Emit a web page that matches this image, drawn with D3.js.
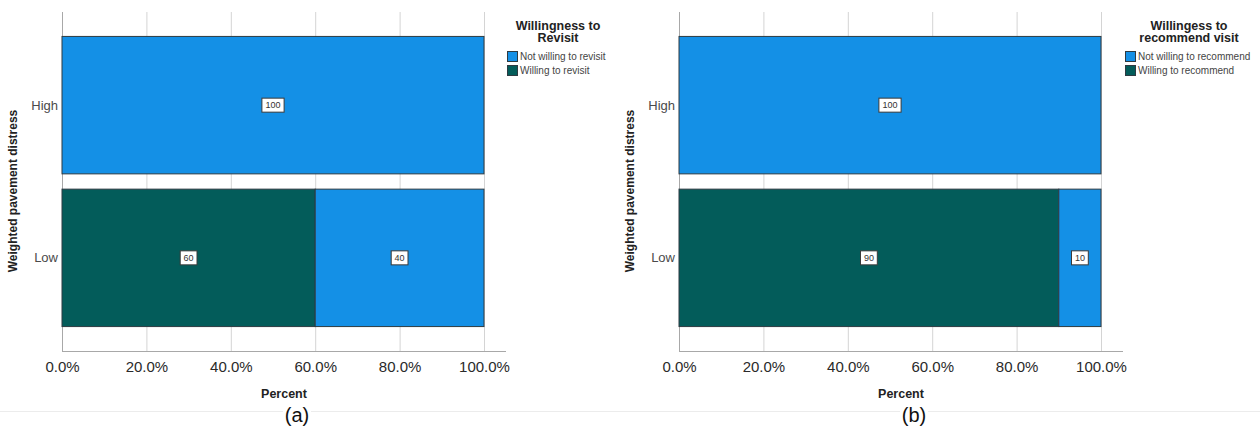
<!DOCTYPE html>
<html>
<head>
<meta charset="utf-8">
<style>
  body { margin: 0; background: #fff; }
  svg { display: block; font-family: "Liberation Sans", Arial, sans-serif; }
</style>
</head>
<body>
<svg width="1260" height="427"></svg>
<script src="https://cdn.jsdelivr.net/npm/d3@7/dist/d3.min.js"></script>
<script>
    const width = 1260;
    const height = 427;

    // data
    const categories = ["High", "Low"];
    const tickValues = [0, 20, 40, 60, 80, 100];
    const yTitle = "Weighted pavement distress";
    const xTitle = "Percent";

    const revisitSeries = ["Willing to revisit", "Not willing to revisit"];
    const revisitWilling = [0, 60];
    const revisitNotWilling = [100, 40];

    const recommendSeries = ["Willing to recommend", "Not willing to recommend"];
    const recommendWilling = [0, 90];
    const recommendNotWilling = [100, 10];

    const colors = { willing: "#035c5a", notWilling: "#1490e6" };

    const svg = d3.select("svg")
        .attr("viewBox", [0, 0, width, height]);

    // faint separator line under the charts
    svg.append("line")
        .attr("x1", 0).attr("x2", width)
        .attr("y1", 411.5).attr("y2", 411.5)
        .attr("stroke", "#ececec");

    const panels = [
        {
            x0: 62, x1: 484, axisEnd: 506, legendX: 507, legendCx: 558,
            legendTitle: ["Willingness to", "Revisit"],
            series: revisitSeries, willing: revisitWilling, notWilling: revisitNotWilling,
            tag: "(a)", tagX: 297, yTitleX: 17, yTitleY: 191
        },
        {
            x0: 679, x1: 1101, axisEnd: 1123, legendX: 1125, legendCx: 1189,
            legendTitle: ["Willingess to", "recommend visit"],
            series: recommendSeries, willing: recommendWilling, notWilling: recommendNotWilling,
            tag: "(b)", tagX: 914, yTitleX: 634, yTitleY: 191
        }
    ];

    panels.forEach(p => drawPanel(p));

    function drawPanel(p) {
        const top = 12, bottom = 351;
        const g = svg.append("g");

        const x = d3.scaleLinear().domain([0, 100]).range([p.x0, p.x1]);
        const y = d3.scaleBand().domain(categories)
            .range([top, bottom])
            .paddingInner(0.1)
            .paddingOuter(0.16);

        // gridlines
        g.append("g")
            .selectAll("line")
            .data(tickValues)
            .join("line")
            .attr("x1", d => x(d) + 0.5).attr("x2", d => x(d) + 0.5)
            .attr("y1", top).attr("y2", bottom)
            .attr("stroke", "#d4d4d4");

        // axis lines
        g.append("line")
            .attr("x1", p.x0 + 0.5).attr("x2", p.x0 + 0.5)
            .attr("y1", top).attr("y2", bottom)
            .attr("stroke", "#a8a8a8");
        g.append("line")
            .attr("x1", p.x0).attr("x2", p.axisEnd)
            .attr("y1", bottom + 0.5).attr("y2", bottom + 0.5)
            .attr("stroke", "#a8a8a8");

        // stacked rows: willing on the left, not willing after it
        const rows = categories.map((c, i) => ({
            cat: c,
            parts: [
                { key: "willing", v: p.willing[i], start: 0 },
                { key: "notWilling", v: p.notWilling[i], start: p.willing[i] }
            ]
        }));

        const row = g.append("g")
            .selectAll("g")
            .data(rows)
            .join("g")
            .attr("transform", d => `translate(0,${y(d.cat)})`);

        const seg = row.selectAll("g")
            .data(d => d.parts.filter(s => s.v > 0))
            .join("g");

        seg.append("rect")
            .attr("x", d => x(d.start))
            .attr("y", 0)
            .attr("width", d => x(d.start + d.v) - x(d.start))
            .attr("height", y.bandwidth())
            .attr("fill", d => colors[d.key])
            .attr("stroke", "#2e3b42")
            .attr("stroke-width", 1);

        // value boxes
        const box = seg.append("g")
            .attr("transform", d => `translate(${x(d.start + d.v / 2)},${y.bandwidth() / 2})`);
        box.append("rect")
            .attr("x", d => -(String(d.v).length * 2.7 + 3))
            .attr("y", -7)
            .attr("width", d => String(d.v).length * 5.4 + 6)
            .attr("height", 14)
            .attr("fill", "#fff")
            .attr("stroke", "#3a3a3a")
            .attr("stroke-width", 1);
        box.append("text")
            .attr("text-anchor", "middle")
            .attr("dy", "0.35em")
            .attr("font-size", 9)
            .attr("fill", "#333")
            .text(d => d.v);

        // category labels
        g.append("g")
            .selectAll("text")
            .data(categories)
            .join("text")
            .attr("x", p.x0 - 4)
            .attr("y", d => y(d) + y.bandwidth() / 2)
            .attr("dy", "0.35em")
            .attr("text-anchor", "end")
            .attr("font-size", 13)
            .attr("fill", "#4a4a4a")
            .text(d => d);

        // x tick labels
        const xAxis = g.append("g")
            .attr("transform", `translate(0,${bottom})`)
            .call(d3.axisBottom(x).tickValues(tickValues)
                .tickSize(0).tickPadding(10)
                .tickFormat(d => d.toFixed(1) + "%"));
        xAxis.select(".domain").remove();
        xAxis.selectAll("text")
            .attr("font-family", "Liberation Sans, Arial, sans-serif")
            .attr("font-size", 15)
            .attr("fill", "#2a2a2a");

        // axis titles
        g.append("text")
            .attr("x", (p.x0 + p.axisEnd) / 2)
            .attr("y", 398)
            .attr("text-anchor", "middle")
            .attr("font-size", 12.5)
            .attr("font-weight", "bold")
            .attr("fill", "#222")
            .text(xTitle);

        g.append("text")
            .attr("transform", `translate(${p.yTitleX},${p.yTitleY}) rotate(-90)`)
            .attr("text-anchor", "middle")
            .attr("font-size", 12)
            .attr("font-weight", "bold")
            .attr("fill", "#222")
            .text(yTitle);

        // legend
        const lg = g.append("g");
        lg.selectAll("text.title")
            .data(p.legendTitle)
            .join("text")
            .attr("class", "title")
            .attr("x", p.legendCx)
            .attr("y", (d, i) => 29.5 + i * 12)
            .attr("text-anchor", "middle")
            .attr("font-size", 12.5)
            .attr("font-weight", "bold")
            .attr("fill", "#222")
            .text(d => d);

        const legendItems = [
            { name: p.series[1], key: "notWilling" },
            { name: p.series[0], key: "willing" }
        ];
        const item = lg.selectAll("g")
            .data(legendItems)
            .join("g")
            .attr("transform", (d, i) => `translate(${p.legendX},${51 + i * 14})`);
        item.append("rect")
            .attr("x", 0.5).attr("y", 0.5)
            .attr("width", 10).attr("height", 10)
            .attr("fill", d => colors[d.key])
            .attr("stroke", "#2e3b42");
        item.append("text")
            .attr("x", 13)
            .attr("y", 9)
            .attr("font-size", 10)
            .attr("fill", "#444")
            .text(d => d.name);

        // panel tag
        g.append("rect")
            .attr("x", p.tagX - 14).attr("y", 405)
            .attr("width", 28).attr("height", 22)
            .attr("fill", "#fff");
        g.append("text")
            .attr("x", p.tagX)
            .attr("y", 422)
            .attr("text-anchor", "middle")
            .attr("font-size", 20)
            .attr("fill", "#111")
            .text(p.tag);
    }
</script>
</body>
</html>
